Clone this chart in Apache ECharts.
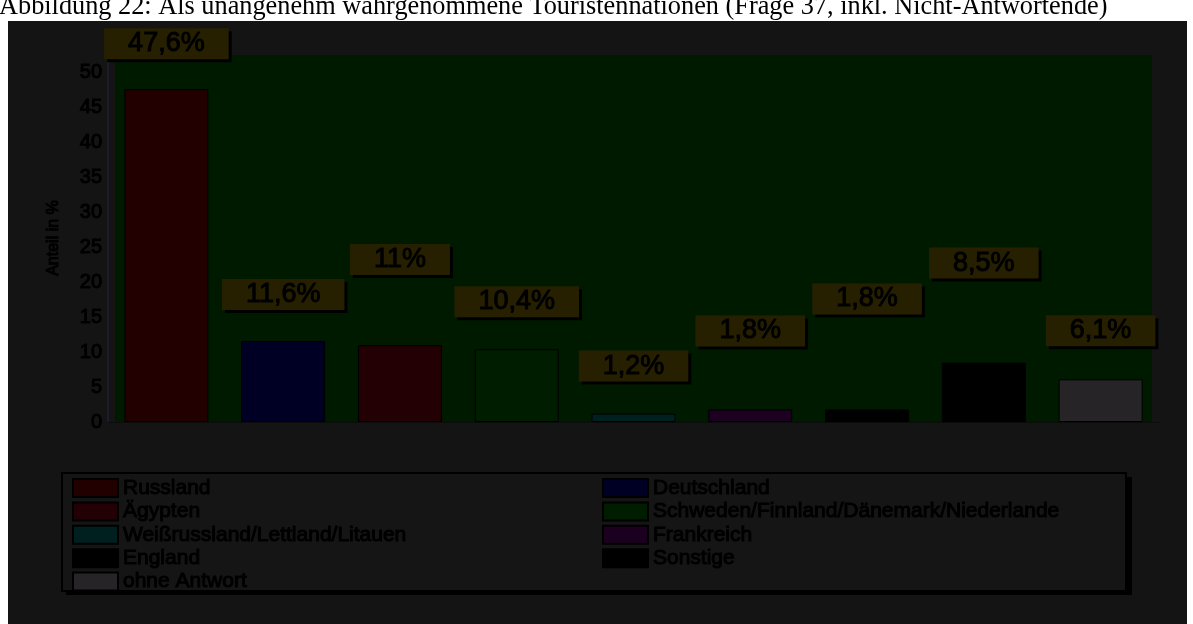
<!DOCTYPE html>
<html>
<head>
<meta charset="utf-8">
<script src="https://cdn.jsdelivr.net/npm/echarts@6/dist/echarts.min.js"></script>
<style>
  html, body { margin: 0; padding: 0; background: #ffffff; }
  #chart { width: 1193px; height: 624px; }
</style>
</head>
<body>
<div id="chart"></div>
<script>
// Nations named as unpleasant tourists (question 37, incl. non-responders)
const countries = [
  'Russland', 'Deutschland', 'Ägypten', 'Schweden/Finnland/Dänemark/Niederlande',
  'Weißrussland/Lettland/Litauen', 'Frankreich', 'England', 'Sonstige', 'ohne Antwort'
];
const shares = [47.6, 11.6, 11, 10.4, 1.2, 1.8, 1.8, 8.5, 6.1];
const yTicks = [0, 5, 10, 15, 20, 25, 30, 35, 40, 45, 50];

// styling
const barColors = ['#220000', '#000024', '#220003', '#001d00', '#001f1f', '#1c0020', '#000000', '#000000', '#262426'];
const labelLift = [30, 31, 70, 32, 32, 63, 95, 84, 33];   // px gap between bar top and its value box
const leftColumn = [0, 2, 4, 6, 8];
const rightColumn = [1, 3, 5, 7];
const ink = '#000000';
const inkStroke = { textBorderColor: '#000000', textBorderWidth: 1 };

const chart = echarts.init(document.getElementById('chart'), null, { renderer: 'canvas' });

const series = countries.map((name, i) => ({
  name: name,
  type: 'bar',
  stack: 'alle',
  barWidth: 84,
  itemStyle: { color: barColors[i], borderColor: '#000', borderWidth: 1 },
  label: Object.assign({
    show: true,
    position: 'top',
    distance: labelLift[i],
    formatter: p => String(p.value).replace('.', ',') + '%',
    fontFamily: 'Liberation Sans',
    fontSize: 27,
    lineHeight: 27,
    color: ink,
    backgroundColor: '#262000',
    padding: [2, 24],
    shadowColor: '#000',
    shadowOffsetX: 3,
    shadowOffsetY: 3,
    shadowBlur: 0
  }, inkStroke),
  data: countries.map((c, j) => (j === i ? shares[i] : '-'))
}));

const legendBase = {
  orient: 'vertical',
  icon: 'rect',
  itemWidth: 45,
  itemHeight: 18,
  itemGap: 1.4,
  top: 477,
  padding: 0,
  textStyle: Object.assign({ fontFamily: 'Liberation Sans', fontSize: 21, color: ink, lineHeight: 18 }, inkStroke),
  selectedMode: false
};

chart.setOption({
  animation: false,
  backgroundColor: '#ffffff',
  graphic: [
    // dark page panel
    { type: 'rect', z: -20, silent: true, shape: { x: 8, y: 21, width: 1179, height: 603 }, style: { fill: '#141414' } },
    // plot wall
    { type: 'rect', z: -10, silent: true, shape: { x: 115, y: 55, width: 1037, height: 367 }, style: { fill: '#001a00' } },
    // legend frame: drop shadow, then box
    { type: 'rect', z: -6, silent: true, shape: { x: 66, y: 477, width: 1066, height: 118 }, style: { fill: '#000' } },
    { type: 'rect', z: -5, silent: true, shape: { x: 62, y: 473, width: 1064, height: 118 },
      style: { fill: '#151515', stroke: '#000', lineWidth: 2 } },
    // caption
    { type: 'text', left: -1, top: -6, silent: true,
      style: { text: 'Abbildung 22: Als unangenehm wahrgenommene Touristennationen (Frage 37, inkl. Nicht-Antwortende)',
               font: '26.3px "Liberation Serif"', fill: '#000' } },
    // value axis title
    { type: 'text', x: 54, y: 238, rotation: Math.PI / 2, silent: true,
      style: { text: 'Anteil in %', font: '16px "Liberation Sans"', fill: '#000', stroke: '#000', lineWidth: 1,
               align: 'center', verticalAlign: 'middle' } }
  ],
  grid: { left: 108, right: 34, top: 55, bottom: 202 },
  xAxis: {
    type: 'category',
    data: countries,
    axisLabel: { show: false },
    axisTick: { show: false },
    axisLine: { lineStyle: { color: '#0c0c0c', width: 1 } }
  },
  yAxis: {
    type: 'value',
    min: yTicks[0],
    max: 52.5,
    interval: 5,
    axisLine: { show: true, lineStyle: { color: '#1c1c2a', width: 2 } },
    axisTick: { show: false },
    splitLine: { show: false },
    axisLabel: Object.assign({
      margin: 6,
      fontFamily: 'Liberation Sans',
      fontSize: 20,
      color: ink,
      formatter: v => (yTicks.indexOf(v) >= 0 ? String(v) : '')
    }, inkStroke)
  },
  legend: [
    Object.assign({}, legendBase, { left: 72, data: leftColumn.map(i => countries[i]) }),
    Object.assign({}, legendBase, { left: 602, data: rightColumn.map(i => countries[i]) })
  ],
  series: series
});
</script>
</body>
</html>
